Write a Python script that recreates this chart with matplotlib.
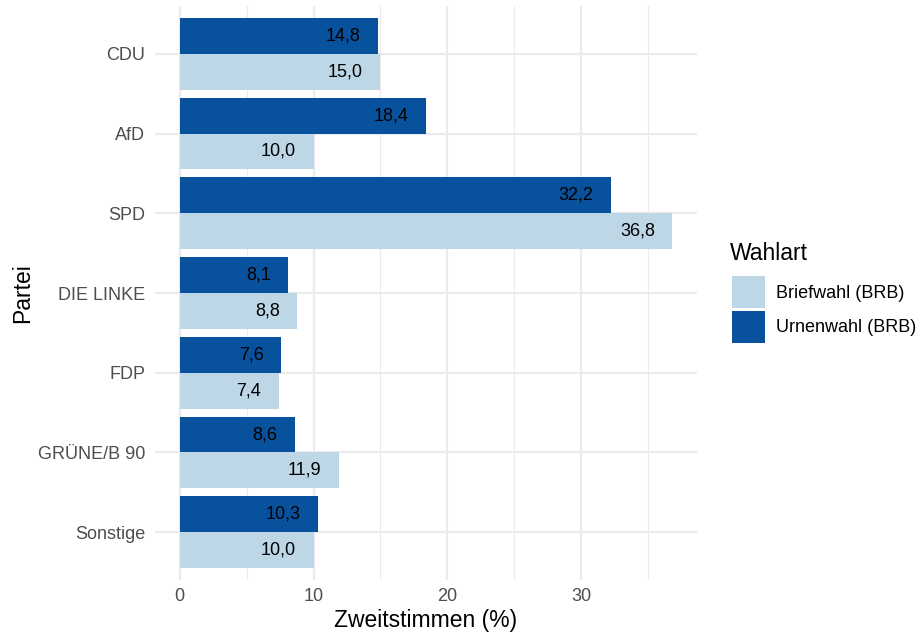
import numpy as np
import matplotlib
matplotlib.use("Agg")
import matplotlib.pyplot as plt
from matplotlib.patches import Patch

plt.rcParams['font.family'] = ['Liberation Sans', 'DejaVu Sans']

# data
parteien = ['CDU', 'AfD', 'SPD', 'DIE LINKE', 'FDP', 'GRÜNE/B 90', 'Sonstige']
urnenwahl = [14.8, 18.4, 32.2, 8.1, 7.6, 8.6, 10.3]
briefwahl = [15.0, 10.0, 36.8, 8.8, 7.4, 11.9, 10.0]
x_ticks = [0, 10, 20, 30]

col_brief = '#BDD7E7'
col_urne = '#08519C'
grid_col = '#EBEBEB'

fig = plt.figure(figsize=(9.19, 6.37), dpi=100)
ax = fig.add_axes([155 / 919, 1 - 580 / 637, (697 - 155) / 919, (580 - 6) / 637])

pos = np.arange(len(parteien))
h = 0.45
ax.barh(pos - h / 2, urnenwahl, height=h, color=col_urne, zorder=3)
ax.barh(pos + h / 2, briefwahl, height=h, color=col_brief, zorder=3)


def fmt(v):
    return f"{v:.1f}".replace('.', ',')


for p, u, b in zip(pos, urnenwahl, briefwahl):
    ax.annotate(fmt(u), (u, p - h / 2), xytext=(-12.5, 0), textcoords='offset points',
                ha='right', va='center', fontsize=13, color='black', zorder=4)
    ax.annotate(fmt(b), (b, p + h / 2), xytext=(-12.5, 0), textcoords='offset points',
                ha='right', va='center', fontsize=13, color='black', zorder=4)

xmax = max(max(urnenwahl), max(briefwahl))
ax.set_xlim(-0.05 * xmax, 1.05 * xmax)
ax.set_ylim(len(parteien) - 0.4, -0.6)

ax.set_xticks(x_ticks)
ax.set_xticks([5, 15, 25, 35], minor=True)
ax.set_yticks(pos)
ax.set_yticklabels(parteien)
ax.tick_params(axis='both', which='both', length=0, labelsize=13, labelcolor='#4D4D4D')
ax.tick_params(axis='y', pad=7)
ax.tick_params(axis='x', pad=6)

ax.grid(True, which='major', color=grid_col, linewidth=1.6, zorder=0)
ax.grid(True, which='minor', axis='x', color=grid_col, linewidth=0.8, zorder=0)
for s in ax.spines.values():
    s.set_visible(False)

ax.set_xlabel('Zweitstimmen (%)', fontsize=16.5, labelpad=3)
ax.set_ylabel('Partei', fontsize=16.5, labelpad=3)

# legend (title drawn separately to get ggplot-like spacing)
fig.text(730 / 919, 1 - 253 / 637, 'Wahlart', fontsize=16.5, ha='left', va='center')
handles = [Patch(facecolor=col_brief, label='Briefwahl (BRB)'),
           Patch(facecolor=col_urne, label='Urnenwahl (BRB)')]
leg = fig.legend(handles=handles, loc='upper left',
                 bbox_to_anchor=(718 / 919, 1 - 262 / 637), frameon=False,
                 fontsize=13, handlelength=1.78, handleheight=2.35,
                 handletextpad=0.65, labelspacing=0.12, borderpad=0.3)

fig.savefig('out.png', dpi=100)
